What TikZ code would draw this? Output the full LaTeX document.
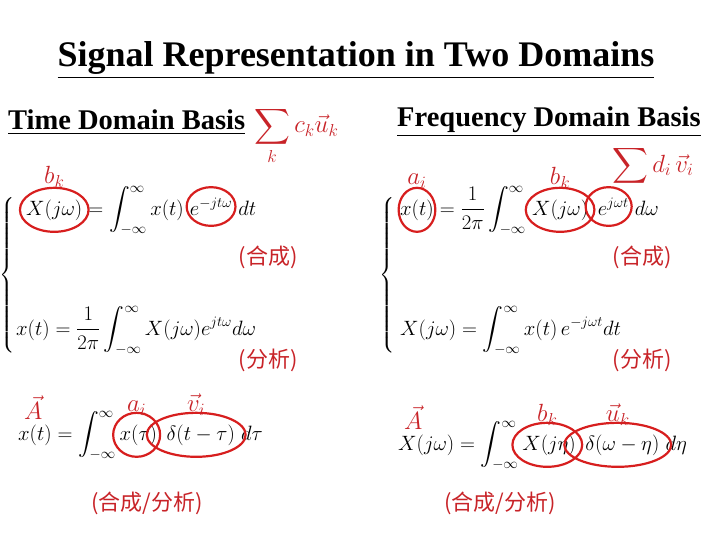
\documentclass[tikz,border=0pt]{standalone}
\usepackage{fontspec}
\usepackage{amsmath}
\usetikzlibrary{shapes.geometric,fit,positioning}
\setmainfont{Liberation Serif}
\newfontfamily\cjk{Noto Sans CJK SC}
\definecolor{rd}{RGB}{200,35,40}
\definecolor{rl}{RGB}{215,30,30}
\begin{document}
\begin{tikzpicture}[x=1pt,y=-1pt,
  eq/.style={anchor=base west,inner sep=0pt,font=\fontsize{22}{26}\selectfont},
  lab/.style={text=rd,inner sep=0pt,font=\fontsize{23}{27}\selectfont},
  cn/.style={text=rd,inner sep=0pt,font=\cjk\fontsize{22}{26}\selectfont},
  hd/.style={anchor=west,inner sep=0pt,font=\bfseries\fontsize{28.5}{32}\selectfont},
  ring/.style={draw=rl,line width=2.2pt,ellipse,inner xsep=-4pt,inner ysep=5pt}]
\useasboundingbox (0,0) rectangle (720,540);
\node[inner sep=0pt,font=\bfseries\fontsize{36}{40}\selectfont] (title) at (356,60) {\underline{Signal Representation in Two Domains}};
\node[hd] (th) at (8,122) {\underline{Time Domain Basis}};
\node[hd] (fh) at (397,122) {\underline{Frequency Domain Basis}};
\node[lab,anchor=west] (s1) at (254,136) {$\displaystyle\sum_k c_k\vec{u}_k$};
% left top
\node[eq] (e1a) at (26,215) {$X(j\omega)$};
\node[eq] (e1b) at (e1a.base east) {$\;=\displaystyle\int_{-\infty}^{\infty}x(t)\;$};
\node[eq] (e1c) at (e1b.base east) {$e^{-jt\omega}$};
\node[eq] (e1d) at (e1c.base east) {$\;dt$};
\node[ring,fit=(e1a)] (r1) {};
\node[ring,fit=(e1c)] (r2) {};
\node[lab,above=-1pt of r1] (bk1) {$b_k$};
\node[cn] (c1) at (268,257) {(合成)};
\node[eq] (e2) at (16,335) {$x(t)=\dfrac{1}{2\pi}\displaystyle\int_{-\infty}^{\infty}X(j\omega)e^{jt\omega}d\omega$};
\node[cn] (a1) at (268,360) {(分析)};
\node[inner sep=0pt,font=\fontsize{19}{22}\selectfont] (br1) at (8,275) {$\left\{\rule{0pt}{80pt}\right.$};
% right top
\node[eq] (e3a) at (400,215) {$x(t)$};
\node[eq] (e3b) at (e3a.base east) {$\;=\dfrac{1}{2\pi}\displaystyle\int_{-\infty}^{\infty}\;$};
\node[eq] (e3c) at (e3b.base east) {$X(j\omega)$};
\node[eq] (e3d) at (e3c.base east) {$\;\,e^{j\omega t}$};
\node[eq] (e3e) at (e3d.base east) {$\;d\omega$};
\node[ring,fit=(e3a)] (r3) {};
\node[ring,fit=(e3c)] (r4) {};
\node[ring,fit=(e3d)] (r5) {};
\node[lab,above=-2pt of r3] (ai2) {$a_i$};
\node[lab,above=-2pt of r4] (bk2) {$b_k$};
\node[lab,anchor=west] (s2) at (612,166) {$\displaystyle\sum d_i\,\vec{v}_i$};
\node[cn] (c2) at (642,257) {(合成)};
\node[eq] (e4) at (400,335) {$X(j\omega)=\displaystyle\int_{-\infty}^{\infty}x(t)\,e^{-j\omega t}dt$};
\node[cn] (a2) at (642,360) {(分析)};
\node[inner sep=0pt,font=\fontsize{19}{22}\selectfont] (br2) at (388,275) {$\left\{\rule{0pt}{80pt}\right.$};
% bottom left
\node[eq] (e5a) at (18,440) {$x(t)=\displaystyle\int_{-\infty}^{\infty}$};
\node[eq] (e5b) at (e5a.base east) {$\,x(\tau)$};
\node[eq] (e5c) at (e5b.base east) {$\;\,\delta(t-\tau)$};
\node[eq] (e5d) at (e5c.base east) {$\;d\tau$};
\node[ring,fit=(e5b)] (r6) {};
\node[ring,fit=(e5c)] (r7) {};
\node[lab,above=-4pt of r6] (ai3) {$a_i$};
\node[lab,above=-4pt of r7] (vi3) {$\vec{v}_i$};
\node[lab,anchor=south west] (A1) at (24,420) {$\vec{A}$};
\node[cn] (m1) at (147,503) {(合成/分析)};
% bottom right
\node[eq] (e6a) at (398,450) {$X(j\omega)=\displaystyle\int_{-\infty}^{\infty}$};
\node[eq] (e6b) at (e6a.base east) {$\,X(j\eta)$};
\node[eq] (e6c) at (e6b.base east) {$\;\,\delta(\omega-\eta)$};
\node[eq] (e6d) at (e6c.base east) {$\;d\eta$};
\node[ring,fit=(e6b)] (r8) {};
\node[ring,fit=(e6c)] (r9) {};
\node[lab,above=-4pt of r8] (bk3) {$b_k$};
\node[lab,above=-4pt of r9] (uk3) {$\vec{u}_k$};
\node[lab,anchor=south west] (A2) at (404,430) {$\vec{A}$};
\node[cn] (m2) at (500,503) {(合成/分析)};
\end{tikzpicture}
\end{document}
